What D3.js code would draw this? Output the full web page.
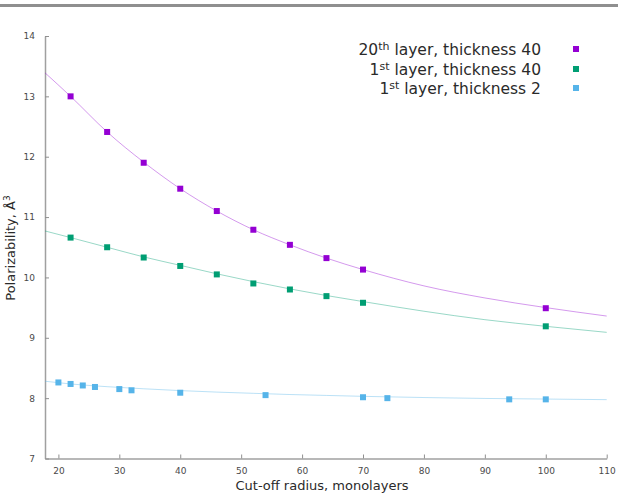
<!DOCTYPE html>
<html>
<head>
<meta charset="utf-8">
<script src="https://cdn.jsdelivr.net/npm/d3@7"></script>
<style>
  body { margin: 0; background: #fff; }
  svg { display: block; }
</style>
</head>
<body>
<div class="canvas"></div>
<script>
// legend entries (base, superscript, rest)
const seriesNames = [
  ['20', 'th', ' layer, thickness 40'],
  ['1', 'st', ' layer, thickness 40'],
  ['1', 'st', ' layer, thickness 2']
];
const seriesColors = ['#9400d3', '#009e73', '#56b4e9'];

// measured points
const purpleX = [22, 28, 34, 40, 46, 52, 58, 64, 70, 100];
const purpleY = [13.0, 12.41, 11.9, 11.47, 11.1, 10.79, 10.54, 10.32, 10.13, 9.49];
const greenX = [22, 28, 34, 40, 46, 52, 58, 64, 70, 100];
const greenY = [10.66, 10.5, 10.33, 10.19, 10.05, 9.9, 9.8, 9.69, 9.58, 9.19];
const blueX = [20, 22, 24, 26, 30, 32, 40, 54, 70, 74, 94, 100];
const blueY = [8.26, 8.235, 8.21, 8.185, 8.15, 8.13, 8.09, 8.05, 8.015, 8.0, 7.98, 7.98];

// fitted curves
const fitX = [17.8, 22, 28, 34, 40, 46, 52, 58, 64, 70, 80, 90, 100, 110];
const fitPurple = [13.39, 13.0, 12.41, 11.91, 11.47, 11.1, 10.79, 10.54, 10.32, 10.13, 9.86, 9.66, 9.5, 9.36];
const fitGreen = [10.77, 10.66, 10.5, 10.34, 10.2, 10.06, 9.93, 9.81, 9.7, 9.6, 9.44, 9.3, 9.19, 9.09];
const fitBlue = [8.28, 8.235, 8.19, 8.155, 8.125, 8.1, 8.08, 8.06, 8.045, 8.03, 8.01, 7.995, 7.985, 7.975];

// ticks
const xTicks = [20, 30, 40, 50, 60, 70, 80, 90, 100, 110];
const yTicks = [7, 8, 9, 10, 11, 12, 13, 14];

const dims = {
  width: 618,
  height: 494,
  left: 45,
  right: 606.7,
  top: 36,
  bottom: 458.5,
  font: 'DejaVu Sans'
};

const svg = d3.select('.canvas')
  .append('svg')
  .attr('width', dims.width)
  .attr('height', dims.height);

// gray rule at the top of the image
svg.append('rect')
  .attr('x', 0).attr('y', 4)
  .attr('width', dims.width).attr('height', 3)
  .attr('fill', '#8f8f8f');

const x = d3.scaleLinear().domain([17.8, 110]).range([dims.left, dims.right]);
const y = d3.scaleLinear().domain([7, 14]).range([dims.bottom, dims.top]);

const xAxis = d3.axisBottom(x).tickValues(xTicks).tickSizeInner(-4).tickSizeOuter(0).tickPadding(9)
  .tickFormat(d3.format('d'));
const yAxis = d3.axisLeft(y).tickValues(yTicks).tickSizeInner(-4).tickSizeOuter(0).tickPadding(10)
  .tickFormat(d3.format('d'));

const xAxisGroup = svg.append('g')
  .attr('transform', `translate(0, ${dims.bottom})`)
  .call(xAxis);
const yAxisGroup = svg.append('g')
  .attr('transform', `translate(${dims.left}, 0)`)
  .call(yAxis);

[xAxisGroup, yAxisGroup].forEach((g) => {
  g.select('path.domain').attr('stroke', '#a0a0a0').attr('stroke-width', 1.5);
  g.selectAll('.tick line').attr('stroke', '#909090').attr('stroke-width', 1);
  g.selectAll('.tick text')
    .attr('fill', '#4a4a4a')
    .attr('font-family', dims.font)
    .attr('font-size', 9);
});

// axis titles
svg.append('text')
  .attr('x', 322)
  .attr('y', 490)
  .attr('text-anchor', 'middle')
  .attr('font-family', dims.font)
  .attr('font-size', 13)
  .attr('fill', '#2a2a2a')
  .text('Cut-off radius, monolayers');

const yTitle = svg.append('text')
  .attr('transform', 'translate(15, 248) rotate(-90)')
  .attr('text-anchor', 'middle')
  .attr('font-family', dims.font)
  .attr('font-size', 13)
  .attr('fill', '#2a2a2a');
yTitle.append('tspan').text('Polarizability, Å');
yTitle.append('tspan').attr('dy', -5).attr('font-size', 9).text('3');

// fitted curves
const line = d3.line()
  .x((d) => x(d[0]))
  .y((d) => y(d[1]))
  .curve(d3.curveMonotoneX);

[fitPurple, fitGreen, fitBlue].forEach((fit, i) => {
  svg.append('path')
    .datum(fitX.map((v, j) => [v, fit[j]]))
    .attr('fill', 'none')
    .attr('stroke', seriesColors[i])
    .attr('stroke-opacity', 0.4)
    .attr('stroke-width', 1)
    .attr('d', line);
});

// points
const pointSets = [
  purpleX.map((v, j) => [v, purpleY[j]]),
  greenX.map((v, j) => [v, greenY[j]]),
  blueX.map((v, j) => [v, blueY[j]])
];
const sq = 6;
pointSets.forEach((pts, i) => {
  svg.append('g')
    .selectAll('rect')
    .data(pts)
    .enter()
    .append('rect')
    .attr('x', (d) => x(d[0]) - sq / 2)
    .attr('y', (d) => y(d[1]) - sq / 2)
    .attr('width', sq)
    .attr('height', sq)
    .attr('fill', seriesColors[i]);
});

// legend
const legendRows = [49, 69, 88];
seriesNames.forEach((name, i) => {
  const t = svg.append('text')
    .attr('x', 541)
    .attr('y', legendRows[i] + 6)
    .attr('text-anchor', 'end')
    .attr('font-family', dims.font)
    .attr('font-size', 15.5)
    .attr('fill', '#2a2a2a');
  t.append('tspan').text(name[0]);
  t.append('tspan').attr('dy', -5.5).attr('font-size', 11).text(name[1]);
  t.append('tspan').attr('dy', 5.5).text(name[2]);

  svg.append('rect')
    .attr('x', 576 - sq / 2)
    .attr('y', legendRows[i] - sq / 2)
    .attr('width', sq)
    .attr('height', sq)
    .attr('fill', seriesColors[i]);
});
</script>
</body>
</html>
